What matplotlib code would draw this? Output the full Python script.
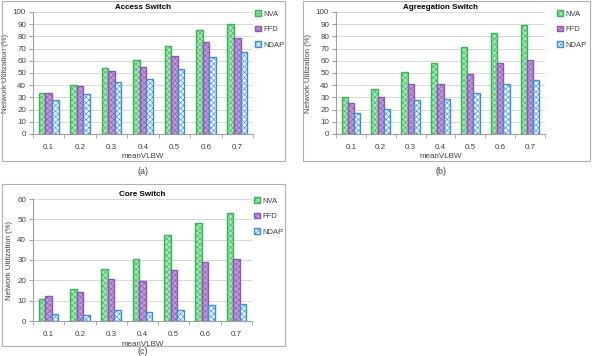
import numpy as np
import matplotlib
matplotlib.use("Agg")
import matplotlib.pyplot as plt
from matplotlib.patches import Rectangle

# data
categories = ["0.1", "0.2", "0.3", "0.4", "0.5", "0.6", "0.7"]
series = ["NVA", "FFD", "NDAP"]

access_nva = [34, 40, 54, 61, 72, 85, 90.5]
access_ffd = [34, 39, 52, 55, 64, 75, 79]
access_ndap = [28, 33, 43, 45, 53, 63, 67]

aggr_nva = [30, 37, 51, 58, 71, 83, 89]
aggr_ffd = [25, 30, 41, 41, 49, 58, 61]
aggr_ndap = [17.5, 20.5, 28, 28.5, 34, 41, 44]

core_nva = [11, 15.5, 25.5, 30.5, 42.5, 48, 53]
core_ffd = [12.5, 14.5, 20.5, 19.5, 25, 29, 30.5]
core_ndap = [3.5, 3, 5.5, 4.5, 5.5, 8, 8.5]

# styling
FACE = ["#a6e4b5", "#c09ad8", "#eaf4fc"]
EDGE = ["#34b655", "#8e55b8", "#3b8fd6"]
W, H = 592, 356

plt.rcParams["font.family"] = ["Liberation Sans", "DejaVu Sans"]
plt.rcParams["hatch.linewidth"] = 0.4

fig = plt.figure(figsize=(W / 100, H / 100), dpi=100)


def px_rect(l, t, r, b):
    return [l / W, 1 - b / H, (r - l) / W, (b - t) / H]


def draw_panel(axbox, frame, title, data, ymax, label, label_y, leg_xy):
    # grey frame around the whole chart, like the Excel chart area
    fl, ft, fr, fb = frame
    fig.patches.append(Rectangle((fl / W, 1 - fb / H), (fr - fl) / W, (fb - ft) / H,
                                 transform=fig.transFigure, fill=False,
                                 edgecolor="#b0b0b0", lw=0.8))
    ax = fig.add_axes(px_rect(*axbox))
    x = np.arange(len(categories))
    bw = 0.21
    handles = []
    for i, vals in enumerate(data):
        b = ax.bar(x + (i - 1) * bw, vals, bw, color=FACE[i], edgecolor=EDGE[i],
                   hatch="xxxxxx", linewidth=1.0, zorder=3, label=series[i])
        handles.append(b)
    ax.set_xlim(-0.5, len(categories) - 0.5)
    ax.set_ylim(0, ymax)
    ax.set_yticks(np.arange(0, ymax + 1, 10))
    ax.set_xticks(x)
    ax.set_xticklabels(categories)
    ax.set_xticks(np.arange(-0.5, len(categories)), minor=True)
    ax.tick_params(axis="x", which="major", length=0, labelsize=5.8, colors="#404040", pad=7)
    ax.tick_params(axis="x", which="minor", length=3, color="#a0a0a0", direction="out")
    ax.tick_params(axis="y", length=3, color="#a0a0a0", labelsize=5.8, labelcolor="#404040", pad=2)
    ax.grid(axis="y", color="#d9d9d9", lw=0.7, zorder=0)
    for s in ["top", "right"]:
        ax.spines[s].set_visible(False)
    for s in ["left", "bottom"]:
        ax.spines[s].set_color("#a0a0a0")
        ax.spines[s].set_linewidth(0.8)
    ax.set_title(title, fontsize=5.8, fontweight="bold", pad=2.5)
    ax.set_xlabel("meanVLBW", fontsize=5.8, color="#404040", labelpad=2)
    ax.set_ylabel("Network Utilization (%)", fontsize=5.6, color="#404040", labelpad=3)
    lx, ly = leg_xy
    fig.legend(handles=handles, loc="upper left", bbox_to_anchor=(lx / W, 1 - ly / H),
               frameon=False, fontsize=5.5, handlelength=0.8, handleheight=0.8,
               handletextpad=0.3, labelspacing=1.05, borderaxespad=0, borderpad=0,
               labelcolor="#404040")
    cx = (axbox[0] + axbox[2]) / 2
    fig.text(cx / W, 1 - label_y / H, label, ha="center", va="top",
             fontsize=6.5, color="#404040")


draw_panel((33, 12, 253, 134), (2, 1, 285, 161), "Access Switch",
           [access_nva, access_ffd, access_ndap], 100, "(a)", 167, (255, 10))
draw_panel((336, 12, 545, 134), (303, 1, 590, 161), "Agreegation Switch",
           [aggr_nva, aggr_ffd, aggr_ndap], 100, "(b)", 167, (557, 10))
draw_panel((33, 199, 252, 321), (2, 184, 285, 346), "Core Switch",
           [core_nva, core_ffd, core_ndap], 60, "(c)", 347.5, (254, 197))

fig.savefig("out.png", dpi=100)
